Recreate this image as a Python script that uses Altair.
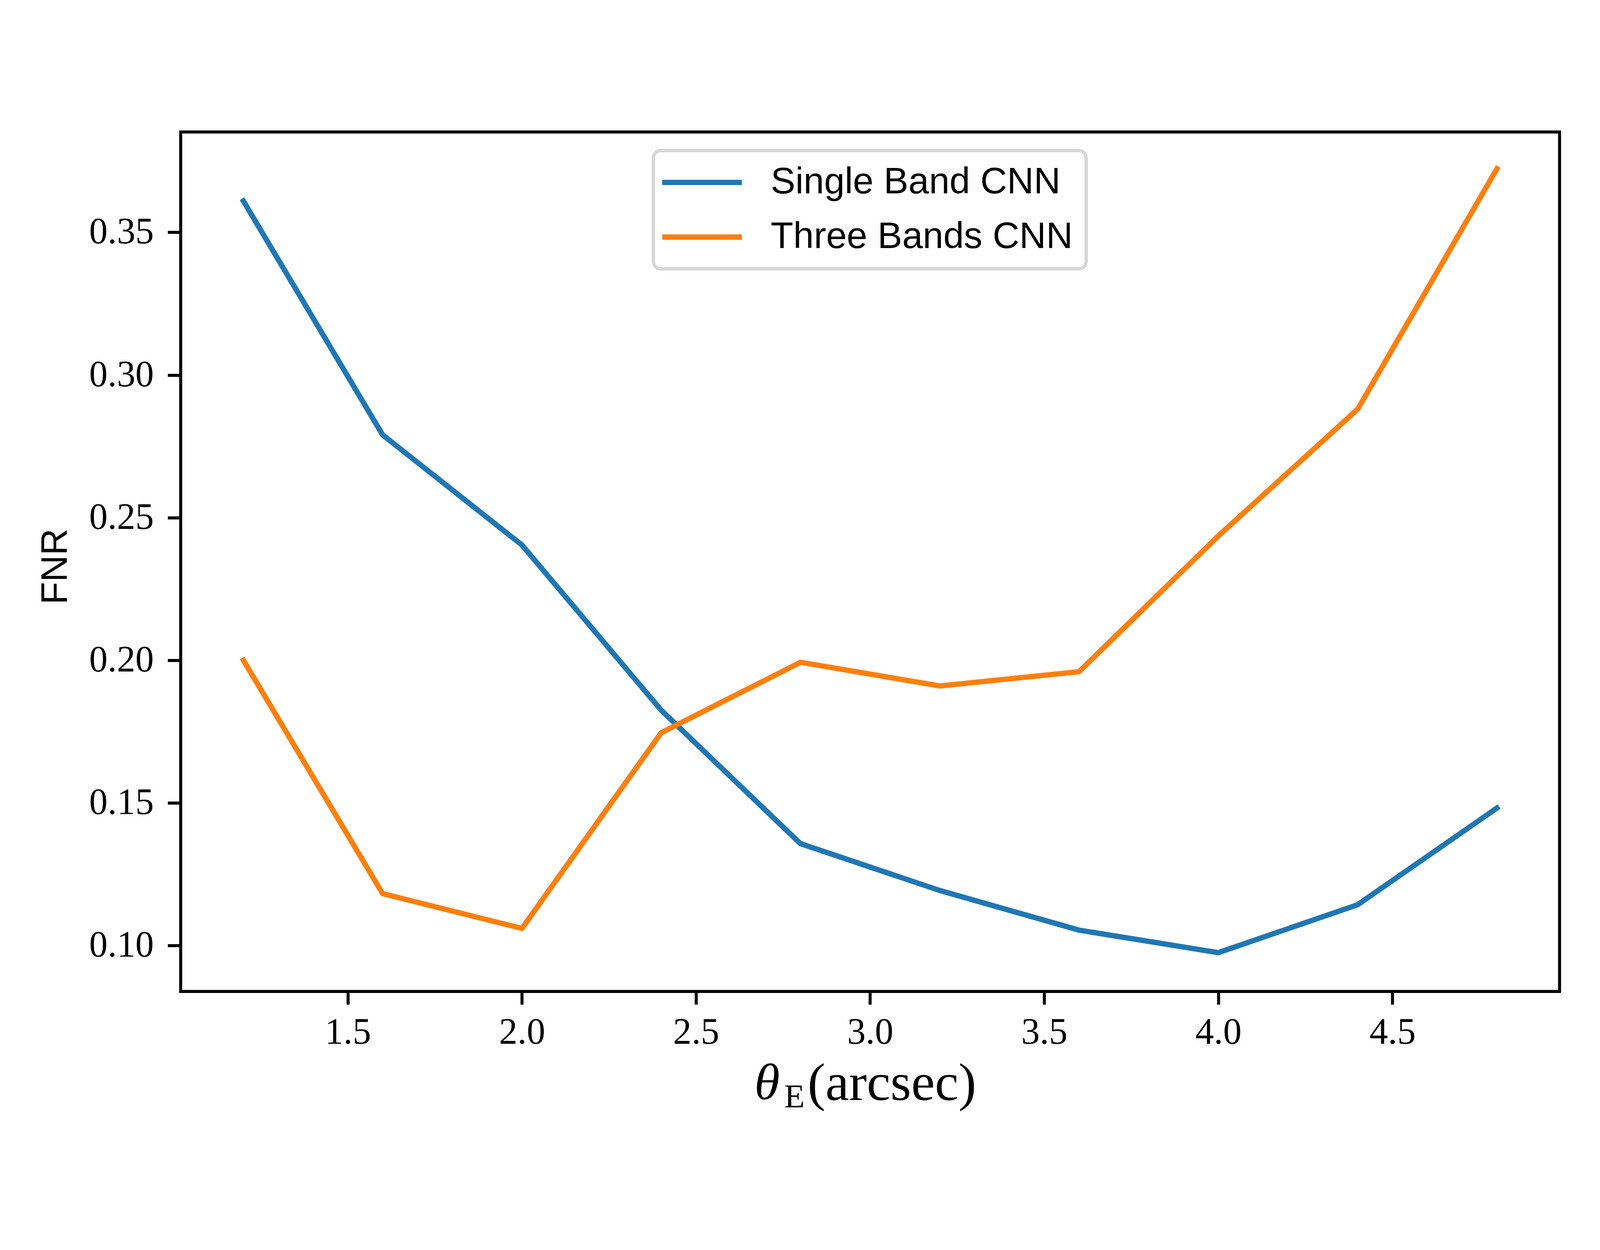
import altair as alt
import pandas as pd

theta_e = [1.2, 1.6, 2.0, 2.4, 2.8, 3.2, 3.6, 4.0, 4.4, 4.8]
single_band = [0.361, 0.279, 0.2404, 0.1825, 0.1357, 0.1193, 0.1054, 0.0975, 0.1143, 0.1482]
three_bands = [0.2000, 0.1182, 0.1060, 0.1746, 0.1993, 0.1910, 0.1960, 0.2436, 0.2880, 0.3723]
series_names = ["Single Band CNN", "Three Bands CNN"]
series_colors = ["#1f77b4", "#ff7f0e"]
x_ticks = [1.5, 2.0, 2.5, 3.0, 3.5, 4.0, 4.5]
y_ticks = [0.10, 0.15, 0.20, 0.25, 0.30, 0.35]

rows = []
for name, vals in zip(series_names, [single_band, three_bands]):
    for xv, yv in zip(theta_e, vals):
        rows.append({"theta": xv, "fnr": yv, "model": name})
df = pd.DataFrame(rows)

W, H = 4139, 2580

lines = alt.Chart(df).mark_line(strokeWidth=16, strokeCap="square", strokeJoin="round").encode(
    x=alt.X("theta:Q", scale=alt.Scale(domain=[1.02, 4.98], nice=False, zero=False),
            axis=alt.Axis(values=x_ticks, format=".1f", title=None, labelPadding=30)),
    y=alt.Y("fnr:Q", scale=alt.Scale(domain=[0.0839, 0.3852], nice=False, zero=False),
            axis=alt.Axis(values=y_ticks, format=".2f", title="FNR", labelPadding=42,
                          titleX=-342, titleY=1304, titleAngle=-90, titleAlign="center",
                          titleBaseline="alphabetic", titleFont="Liberation Sans",
                          titleFontSize=111, titleFontWeight="normal")),
    color=alt.Color("model:N", scale=alt.Scale(domain=series_names, range=series_colors),
                    legend=alt.Legend(orient="none", legendX=1419, legendY=56, title=None,
                                      symbolType="M-2.3,0L5.67,0", symbolSize=3600,
                                      symbolStrokeWidth=16, labelFont="Liberation Sans",
                                      labelFontSize=111, labelOffset=201, rowPadding=52,
                                      padding=40, strokeColor="#d6d6d6", fillColor="white",
                                      cornerRadius=22, labelLimit=3000)),
)

one = alt.Data(values=[{"k": 0}])
t_theta = alt.Chart(one).mark_text(text="θ", font="Liberation Serif", fontStyle="italic",
                                   fontSize=155, align="left", baseline="alphabetic").encode(
    x=alt.value(1722), y=alt.value(2904))
t_sub = alt.Chart(one).mark_text(text="E", font="Liberation Serif", fontSize=100,
                                 align="left", baseline="alphabetic").encode(
    x=alt.value(1812), y=alt.value(2928))
t_rest = alt.Chart(one).mark_text(text="(arcsec)", font="Liberation Serif", fontSize=160,
                                  align="left", baseline="alphabetic").encode(
    x=alt.value(1882), y=alt.value(2906))

chart = alt.layer(lines, t_theta, t_sub, t_rest).properties(
    width=W, height=H, autosize="none",
    padding={"left": 533, "top": 112, "right": 112, "bottom": 492},
    background="white",
).configure_view(
    stroke="black", strokeWidth=9
).configure_axis(
    domain=False, grid=False, tickColor="black", tickWidth=9, tickSize=39,
    labelFont="Liberation Serif", labelFontSize=111, labelColor="black", labelLimit=2000,
).configure_legend(
    strokeWidth=10
)

chart.save("out.html", embed_options={"renderer": "svg", "actions": False})
